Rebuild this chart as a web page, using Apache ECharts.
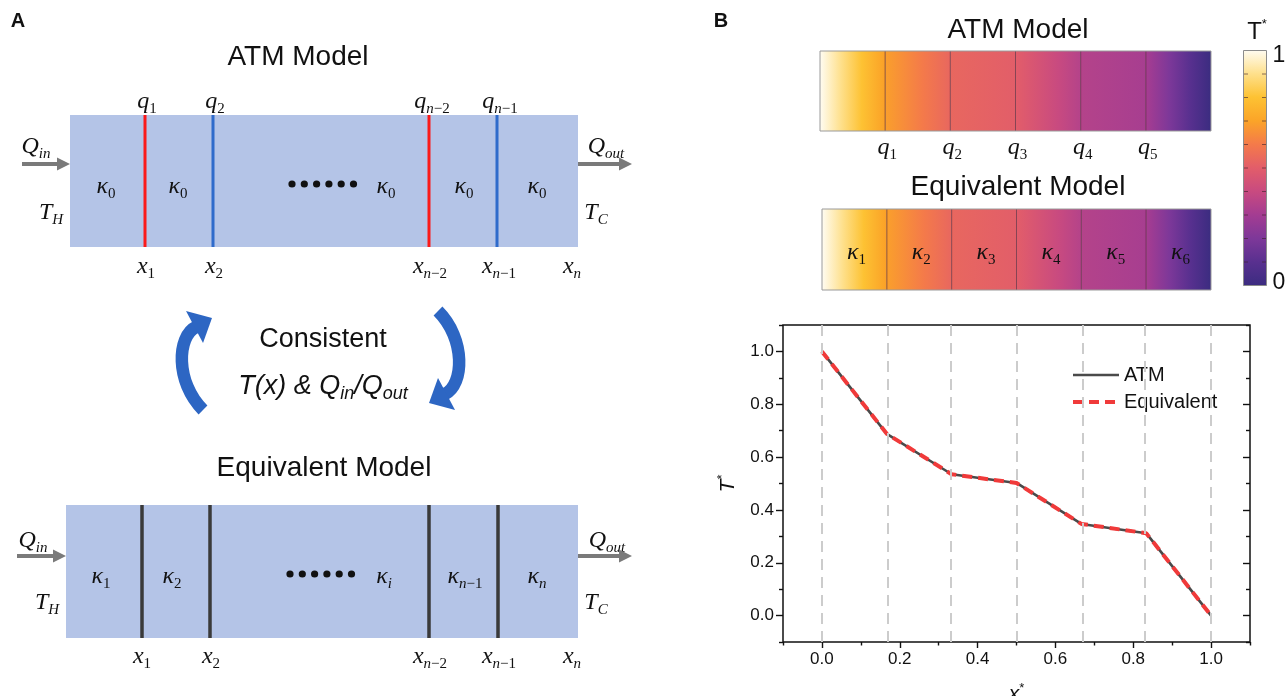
<!DOCTYPE html>
<html>
<head>
<meta charset="utf-8">
<title>ATM model vs equivalent model</title>
<script src="https://cdn.jsdelivr.net/npm/echarts@6/dist/echarts.min.js"></script>
<style>
html, body { margin: 0; padding: 0; background: #fff; }
#main { width: 1287px; height: 696px; }
</style>
</head>
<body>
<div id="main"></div>
<script>
// nodes of the 6 segments (x*) and the temperature read at each node (T*)
var nodeX = [0, 0.1667, 0.3333, 0.5, 0.6667, 0.8333, 1];
var atmT = [1.0, 0.688, 0.535, 0.502, 0.347, 0.312, 0.0];
var equivT = [1.0, 0.688, 0.535, 0.502, 0.347, 0.312, 0.0];
var seriesNames = ['ATM', 'Equivalent'];
var xTicks = [0, 0.2, 0.4, 0.6, 0.8, 1.0];
var xMinor = [-0.1, 0.1, 0.3, 0.5, 0.7, 0.9, 1.1];
var yTicks = [0, 0.2, 0.4, 0.6, 0.8, 1.0];
var yMinor = [-0.1, 0.1, 0.3, 0.5, 0.7, 0.9, 1.1];
var cbarTicks = [0.1, 0.2, 0.3, 0.4, 0.5, 0.6, 0.7, 0.8, 0.9];
var qSubs = ['1', '2', '3', '4', '5'];
var kSubs = ['1', '2', '3', '4', '5', '6'];

// colour map T* 0 -> 1 (evenly spaced stops)
var cmapColors = ['#3b2c80', '#58308f', '#7d3899', '#a33c92', '#c84a80', '#e25d6a',
                  '#f47a4a', '#fba428', '#fdc233', '#fee08c', '#fffcf2'];

var SANS = '"Liberation Sans", Arial, sans-serif';
var SERIF = '"Liberation Serif", "Times New Roman", serif';
var meas = document.createElement('canvas').getContext('2d');

function tColor(t) {
  return echarts.color.lerp(Math.max(0, Math.min(1, t)), cmapColors);
}

// gradient stops for one segment going linearly from t0 to t1
function segStops(t0, t1) {
  var st = [{ offset: 0, color: tColor(t0) }];
  if (t0 !== t1) {
    cmapColors.forEach(function (c, k) {
      var v = k / (cmapColors.length - 1);
      if ((v - t0) * (v - t1) < 0) st.push({ offset: (t0 - v) / (t0 - t1), color: c });
    });
  }
  st.push({ offset: 1, color: tColor(t1) });
  st.sort(function (a, b) { return a.offset - b.offset; });
  return st;
}

// text made of several runs, centred on x
function runs(x, y, parts, color) {
  var w = 0;
  parts.forEach(function (p) { meas.font = p[1]; p.w = meas.measureText(p[0]).width; w += p.w; });
  var cx = x - w / 2, out = [];
  parts.forEach(function (p) {
    out.push({
      type: 'text', silent: true,
      style: { text: p[0], x: cx, y: y + (p[2] || 0), font: p[1], fill: color || '#111',
               textAlign: 'left', textVerticalAlign: 'middle', align: 'left', verticalAlign: 'middle' }
    });
    cx += p.w;
  });
  return out;
}

// italic symbol with subscript (letters italic, digits upright)
function sym(x, y, base, sub, size) {
  size = size || 24;
  var ss = Math.round(size * 0.64);
  var parts = [[base, 'italic ' + size + 'px ' + SERIF, 0]];
  var re = /([A-Za-z]+)|([^A-Za-z]+)/g, m;
  while ((m = re.exec(sub))) parts.push([m[0], (m[1] ? 'italic ' : '') + ss + 'px ' + SERIF, size * 0.3]);
  return runs(x, y, parts);
}

function title(x, y, txt, size) {
  return { type: 'text', silent: true,
    style: { text: txt, x: x, y: y, font: (size || 28) + 'px ' + SANS, fill: '#111',
             textAlign: 'center', textVerticalAlign: 'middle', align: 'center', verticalAlign: 'middle' } };
}

function grayArrow(x1, x2, y) {
  return [
    { type: 'line', silent: true, shape: { x1: x1, y1: y, x2: x2 - 10, y2: y }, style: { stroke: '#7a7a7a', lineWidth: 4 } },
    { type: 'polygon', silent: true, shape: { points: [[x2, y], [x2 - 13, y - 6.5], [x2 - 13, y + 6.5]] }, style: { fill: '#7a7a7a' } }
  ];
}

function vline(x, y1, y2, color, w) {
  return { type: 'line', silent: true, shape: { x1: x, y1: y1, x2: x, y2: y2 }, style: { stroke: color, lineWidth: w } };
}

function dots(x0, y) {
  var out = [];
  for (var k = 0; k < 6; k++) out.push({ type: 'circle', silent: true, shape: { cx: x0 + k * 12.3, cy: y, r: 3.6 }, style: { fill: '#111' } });
  return out;
}

function curvedArrow(f) {
  var P = [[203, 410], [175, 382], [177, 336], [196, 327]].map(f);
  var head = [[212, 318], [186, 311], [203, 343]].map(f);
  return [
    { type: 'bezierCurve', silent: true,
      shape: { x1: P[0][0], y1: P[0][1], cpx1: P[1][0], cpy1: P[1][1], cpx2: P[2][0], cpy2: P[2][1], x2: P[3][0], y2: P[3][1] },
      style: { stroke: '#2d66c3', lineWidth: 12.5, fill: 'none' } },
    { type: 'polygon', silent: true, shape: { points: head }, style: { fill: '#2d66c3' } }
  ];
}

// ---------- panel A (schematic) ----------
var g = [];
g.push({ type: 'text', silent: true, style: { text: 'A', x: 18, y: 21, font: 'bold 20px ' + SANS, fill: '#111', textAlign: 'center', textVerticalAlign: 'middle', align: 'center', verticalAlign: 'middle' } });
g.push({ type: 'text', silent: true, style: { text: 'B', x: 721, y: 21, font: 'bold 20px ' + SANS, fill: '#111', textAlign: 'center', textVerticalAlign: 'middle', align: 'center', verticalAlign: 'middle' } });

// ATM model
g.push(title(298, 57, 'ATM Model'));
g.push({ type: 'rect', silent: true, shape: { x: 70, y: 115, width: 508, height: 132 }, style: { fill: '#b4c4e7' } });
g.push(vline(145, 115, 247, '#fb1a1a', 3), vline(213, 115, 247, '#2f6bcb', 3),
       vline(429, 115, 247, '#fb1a1a', 3), vline(497, 115, 247, '#2f6bcb', 3));
g = g.concat(sym(147, 102, 'q', '1'), sym(215, 102, 'q', '2'), sym(432, 102, 'q', 'n−2'), sym(500, 102, 'q', 'n−1'));
g = g.concat(sym(36, 147, 'Q', 'in'), grayArrow(22, 70, 164));
g = g.concat(sym(606, 147, 'Q', 'out'), grayArrow(578, 632, 164));
g = g.concat(sym(106, 187, 'κ', '0'), sym(178, 187, 'κ', '0'), dots(292, 184), sym(386, 187, 'κ', '0'),
             sym(464, 187, 'κ', '0'), sym(537, 187, 'κ', '0'));
g = g.concat(sym(51, 213, 'T', 'H'), sym(596, 213, 'T', 'C'));
g = g.concat(sym(146, 267, 'x', '1'), sym(214, 267, 'x', '2'), sym(430, 267, 'x', 'n−2'),
             sym(499, 267, 'x', 'n−1'), sym(572, 267, 'x', 'n'));

// consistency arrows
g = g.concat(curvedArrow(function (p) { return p; }));
g = g.concat(curvedArrow(function (p) { return [641 - p[0], 721 - p[1]]; }));
g.push(title(323, 340, 'Consistent', 27));
g = g.concat(runs(323, 386, [
  ['T(x) & Q', 'italic 27px ' + SANS, 0], ['in', 'italic 18px ' + SANS, 8],
  ['/Q', 'italic 27px ' + SANS, 0], ['out', 'italic 18px ' + SANS, 8]
]));

// equivalent model
g.push(title(324, 468, 'Equivalent Model'));
g.push({ type: 'rect', silent: true, shape: { x: 66, y: 505, width: 512, height: 133 }, style: { fill: '#b4c4e7' } });
g.push(vline(142, 505, 638, '#3a3a3a', 3.5), vline(210, 505, 638, '#3a3a3a', 3.5),
       vline(429, 505, 638, '#3a3a3a', 3.5), vline(498, 505, 638, '#3a3a3a', 3.5));
g = g.concat(sym(33, 541, 'Q', 'in'), grayArrow(17, 66, 556));
g = g.concat(sym(607, 541, 'Q', 'out'), grayArrow(578, 632, 556));
g = g.concat(sym(101, 577, 'κ', '1'), sym(172, 577, 'κ', '2'), dots(290, 574), sym(384, 577, 'κ', 'i'),
             sym(465, 577, 'κ', 'n−1'), sym(537, 577, 'κ', 'n'));
g = g.concat(sym(47, 603, 'T', 'H'), sym(596, 603, 'T', 'C'));
g = g.concat(sym(142, 657, 'x', '1'), sym(211, 657, 'x', '2'), sym(430, 657, 'x', 'n−2'),
             sym(499, 657, 'x', 'n−1'), sym(572, 657, 'x', 'n'));

// ---------- panel B titles and colour bar ----------
g.push(title(1018, 30, 'ATM Model'), title(1018, 187, 'Equivalent Model'));
var cbStops = cmapColors.map(function (c, k) { return { offset: k / (cmapColors.length - 1), color: c }; });
g.push({ type: 'rect', silent: true, shape: { x: 1243.5, y: 50.5, width: 23, height: 235 },
         style: { fill: new echarts.graphic.LinearGradient(0, 1, 0, 0, cbStops), stroke: '#8c8c8c', lineWidth: 1 } });
cbarTicks.forEach(function (v) {
  var y = 285.5 - v * 235;
  g.push({ type: 'line', silent: true, shape: { x1: 1244, y1: y, x2: 1248, y2: y }, style: { stroke: 'rgba(60,30,40,0.6)', lineWidth: 1 } });
  g.push({ type: 'line', silent: true, shape: { x1: 1262, y1: y, x2: 1266, y2: y }, style: { stroke: 'rgba(60,30,40,0.6)', lineWidth: 1 } });
});
g.push(title(1279, 56, '1', 23), title(1279, 283, '0', 23));
g = g.concat(runs(1257, 32, [['T', '24px ' + SANS, 0], ['*', '13px ' + SANS, -8]]));

// ---------- bar heat strips drawn through the cartesian scales ----------
function segData(T) {
  var d = [];
  for (var i = 0; i < T.length - 1; i++) d.push([nodeX[i], nodeX[i + 1], T[i], T[i + 1], i]);
  return d;
}

function barItem(kind) {
  return function (params, api) {
    var x0 = api.value(0), x1 = api.value(1), i = api.value(4);
    var p0 = api.coord([x0, 1]), p1 = api.coord([x1, 0]);
    var ch = [{ type: 'rect', shape: { x: p0[0], y: p0[1], width: p1[0] - p0[0], height: p1[1] - p0[1] },
                style: { fill: new echarts.graphic.LinearGradient(0, 0, 1, 0, segStops(api.value(2), api.value(3))) } }];
    if (i > 0) ch.push({ type: 'line', shape: { x1: p0[0], y1: p0[1], x2: p0[0], y2: p1[1] },
                         style: { stroke: 'rgba(70,25,45,0.6)', lineWidth: 1 } });
    if (kind === 'atm' && i > 0) ch = ch.concat(sym(p0[0] + 2, p1[1] + 17, 'q', qSubs[i - 1], 24));
    if (kind === 'eq') ch = ch.concat(sym((p0[0] + p1[0]) / 2 + 2, (p0[1] + p1[1]) / 2 + 3, 'κ', kSubs[i], 24));
    return { type: 'group', children: ch };
  };
}

function hiddenAxis(gi) {
  return { gridIndex: gi, type: 'value', min: 0, max: 1, show: false };
}

function tickAxis(gi, pos, vals, len, inside, label, extra) {
  var a = {
    gridIndex: gi, type: 'value', min: -0.1, max: 1.1, position: pos,
    axisLine: { show: false, onZero: false },
    splitLine: { show: false },
    axisTick: { show: true, customValues: vals, length: len, inside: inside, lineStyle: { color: '#111', width: 1.4 } },
    axisLabel: label ? { customValues: vals, formatter: function (v) { return v.toFixed(1); },
                         fontSize: 17, color: '#111', fontFamily: SANS, margin: 9 } : { show: false }
  };
  for (var k in extra) a[k] = extra[k];
  return a;
}

var nameRich = {
  t: { fontSize: 21, fontStyle: 'italic', fontFamily: SANS, color: '#111' },
  s: { fontSize: 13, fontFamily: SANS, color: '#111', padding: [0, 0, 12, 0] }
};

var plotBox = { left: 783, top: 325, width: 467, height: 317, outerBoundsMode: 'none' };
function box(extra) {
  var o = {};
  for (var k in plotBox) o[k] = plotBox[k];
  for (var j in extra) o[j] = extra[j];
  return o;
}

var myChart = echarts.init(document.getElementById('main'), null, { renderer: 'canvas' });
var option = {
  backgroundColor: '#fff',
  animation: false,
  grid: [
    { left: 820, top: 51, width: 391, height: 80, show: true, borderColor: '#9a9a9a', borderWidth: 1, z: 5, outerBoundsMode: 'none' },
    { left: 822, top: 209, width: 389, height: 81, show: true, borderColor: '#9a9a9a', borderWidth: 1, z: 5, outerBoundsMode: 'none' },
    box({ show: true, borderColor: '#111', borderWidth: 1.5, z: 5 }),
    box({ show: false })
  ],
  xAxis: [
    hiddenAxis(0), hiddenAxis(1),
    tickAxis(2, 'bottom', xTicks, 6, false, true, {
      name: '{t|x}{s|*}', nameLocation: 'middle', nameGap: 40, nameTextStyle: { rich: nameRich }
    }),
    tickAxis(3, 'bottom', xMinor, 3.5, false, false, {})
  ],
  yAxis: [
    hiddenAxis(0), hiddenAxis(1),
    tickAxis(2, 'left', yTicks, 7, false, true, {
      name: '{t|T}{s|*}', nameLocation: 'middle', nameGap: 42, nameRotate: 90, nameTextStyle: { rich: nameRich }
    }),
    tickAxis(2, 'right', yTicks, 7, true, false, {}),
    tickAxis(3, 'left', yMinor, 4, false, false, {}),
    tickAxis(3, 'right', yMinor, 4, true, false, {})
  ],
  legend: {
    data: seriesNames, orient: 'vertical', left: 1066, top: 360, itemWidth: 46, itemHeight: 14, itemGap: 7,
    itemStyle: { opacity: 0 }, lineStyle: { width: 'inherit' },
    textStyle: { fontSize: 20, fontFamily: SANS, color: '#111' }, selectedMode: false
  },
  series: [
    { type: 'custom', xAxisIndex: 0, yAxisIndex: 0, renderItem: barItem('atm'), data: segData(atmT),
      dimensions: ['x0', 'x1', 't0', 't1', 'i'], encode: { x: [0, 1], y: [2, 3] }, clip: false, silent: true, z: 2 },
    { type: 'custom', xAxisIndex: 1, yAxisIndex: 1, renderItem: barItem('eq'), data: segData(equivT),
      dimensions: ['x0', 'x1', 't0', 't1', 'i'], encode: { x: [0, 1], y: [2, 3] }, clip: false, silent: true, z: 2 },
    { type: 'line', xAxisIndex: 2, yAxisIndex: 2, data: [], silent: true, z: 1,
      markLine: { silent: true, symbol: 'none', label: { show: false },
                  lineStyle: { color: '#cccccc', type: [11, 7], width: 2 },
                  data: nodeX.map(function (v) { return { xAxis: v }; }) } },
    { name: seriesNames[0], type: 'line', xAxisIndex: 2, yAxisIndex: 2, symbol: 'none', z: 3,
      data: nodeX.map(function (x, i) { return [x, atmT[i]]; }),
      lineStyle: { color: '#4a4a4a', width: 2.6 }, itemStyle: { color: '#4a4a4a' } },
    { name: seriesNames[1], type: 'line', xAxisIndex: 2, yAxisIndex: 2, symbol: 'none', z: 4,
      data: nodeX.map(function (x, i) { return [x, equivT[i]]; }),
      lineStyle: { color: '#f03a3a', width: 4, type: [10, 6] }, itemStyle: { color: '#f03a3a' } }
  ],
  graphic: { elements: g }
};
myChart.setOption(option);
</script>
</body>
</html>
